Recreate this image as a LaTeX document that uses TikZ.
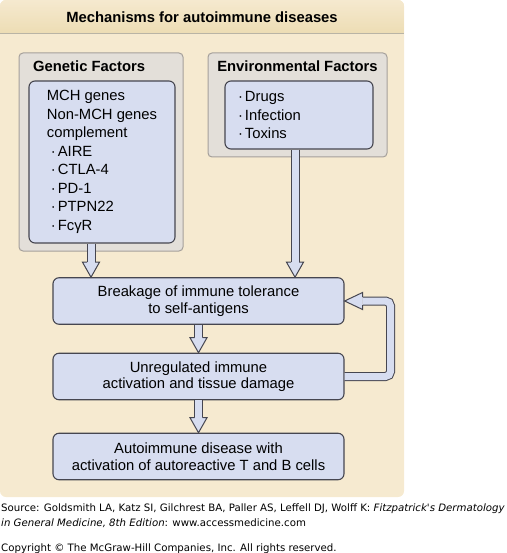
\documentclass[tikz,border=0pt]{standalone}
\usepackage{fontspec}
\setmainfont{Liberation Sans}
\newfontfamily\notefont{DejaVu Sans}
\usetikzlibrary{calc}
\definecolor{panelbg}{RGB}{246,234,208}
\definecolor{bandtop}{RGB}{245,233,207}
\definecolor{bandbot}{RGB}{237,221,180}
\definecolor{bandline}{RGB}{185,180,165}
\definecolor{factorfill}{RGB}{227,223,217}
\definecolor{factorline}{RGB}{165,160,155}
\definecolor{stepfill}{RGB}{215,221,240}
\definecolor{stepline}{RGB}{70,70,80}

% hollow block arrow pointing down onto a node
\newcommand{\blockdown}[2]{%
  \coordinate (bs) at (#1);
  \coordinate (bt) at (bs |- #2);
  \draw[shaft] (bs) -- ($(bt)+(0,-15)$);
  \filldraw[head] ($(bt)+(-4,-15)$) -- ($(bt)+(-8.5,-15)$) -- (bt)
    -- ($(bt)+(8.5,-15)$) -- ($(bt)+(4,-15)$);}

\begin{document}
\begin{tikzpicture}[x=1pt,y=-1pt,
    every node/.style={font=\fontsize{14.8}{18.5}\selectfont},
    factorbox/.style={draw=factorline, fill=factorfill, rounded corners=4pt, line width=1pt},
    listbox/.style={draw=stepline, fill=stepfill, rounded corners=6pt, line width=1.1pt,
                    align=left, inner ysep=0pt},
    stepbox/.style={draw=stepline, fill=stepfill, rounded corners=6pt, line width=1.1pt,
                    minimum width=291pt, minimum height=46.5pt, align=center, inner sep=0pt,
                    font=\fontsize{14.8}{16.5}\selectfont},
    headline/.style={font=\fontsize{14.8}{17}\selectfont\bfseries},
    shaft/.style={draw=stepline, line width=1pt, double=stepfill, double distance=7pt},
    head/.style={draw=stepline, fill=stepfill, line width=1pt, line join=miter},
    note/.style={font=\notefont\fontsize{10.2}{14}\selectfont, anchor=base west, inner sep=0pt}]
  \useasboundingbox (0,0) rectangle (506,553);

  % panel and title band
  \fill[panelbg, rounded corners=6pt] (0,0) rectangle (404,497);
  \begin{scope}
    \clip[rounded corners=6pt] (0,0) rectangle (404,497);
    \shade[top color=bandtop, bottom color=bandbot] (0,0) rectangle (404,33);
  \end{scope}
  \draw[bandline, line width=1.2pt] (0,33.5) -- (404,33.5);
  \node[headline] (title) at (202,17) {Mechanisms for autoimmune diseases};

  % factor groups
  \node[factorbox, minimum width=164pt, minimum height=198pt] (gen) at (101,152) {};
  \node[headline, anchor=west, inner sep=0pt] (genhead) at (33,66) {Genetic Factors};
  \node[listbox, minimum width=146pt, minimum height=162pt] (gin) at (102,162)
    {MCH genes\\
     Non-MCH genes\\
     complement\\
     \hspace*{4pt}·\hspace{2pt}AIRE\\
     \hspace*{4pt}·\hspace{2pt}CTLA-4\\
     \hspace*{4pt}·\hspace{2pt}PD-1\\
     \hspace*{4pt}·\hspace{2pt}PTPN22\\
     \hspace*{4pt}·\hspace{2pt}FcγR};

  \node[factorbox, minimum width=179pt, minimum height=104pt] (env) at (297.5,105) {};
  \node[headline, inner sep=0pt] (envhead) at (297.5,66) {Environmental Factors};
  \node[listbox, minimum width=148pt, minimum height=68pt, text width=122pt,
        inner xsep=13pt] (ein) at (299,115)
    {·\hspace{2pt}Drugs\\
     ·\hspace{2pt}Infection\\
     ·\hspace{2pt}Toxins};

  % chain of events
  \node[stepbox] (brk) at (198.5,301) {Breakage of immune tolerance\\to self-antigens};
  \node[stepbox] (unreg) at (198.5,376.5) {Unregulated immune\\activation and tissue damage};
  \node[stepbox] (auto) at (198.5,456.5) {Autoimmune disease with\\activation of autoreactive T and B cells};

  % arrows
  \blockdown{$(gin.south)+(-11,0)$}{brk.north}
  \blockdown{$(ein.south)+(-4,0)$}{brk.north}
  \blockdown{brk.south}{unreg.north}
  \blockdown{unreg.south}{auto.north}
  \draw[shaft, rounded corners=5pt] (unreg.east) -| ($(brk.east)+(46,0)$) -- ($(brk.east)+(18,0)$);
  \filldraw[head] ($(brk.east)+(18,-4)$) -- ($(brk.east)+(18,-8.5)$) -- (brk.east)
    -- ($(brk.east)+(18,8.5)$) -- ($(brk.east)+(18,4)$);

  % source lines
  \node[note] (src1) at (1,511) {Source: Goldsmith LA, Katz SI, Gilchrest BA, Paller AS, Leffell DJ, Wolff K: \textit{Fitzpatrick's Dermatology}};
  \node[note] (src2) at (1,526) {\textit{in General Medicine, 8th Edition}: www.accessmedicine.com};
  \node[note] (copy) at (1,551) {Copyright © The McGraw-Hill Companies, Inc. All rights reserved.};
\end{tikzpicture}
\end{document}
